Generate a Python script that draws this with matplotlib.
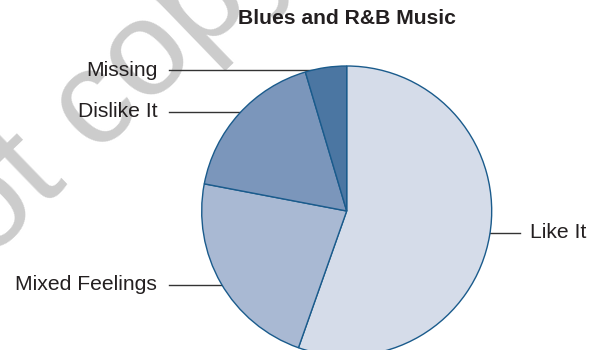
import matplotlib
matplotlib.use('Agg')
import matplotlib.pyplot as plt
import numpy as np

plt.rcParams['font.family'] = ['Liberation Sans', 'DejaVu Sans']

# survey shares, percent
categories = ['Like It', 'Mixed Feelings', 'Dislike It', 'Missing']
shares = [55.4, 22.6, 17.4, 4.6]
colors = ['#d5dce9', '#a9b9d3', '#7b96bb', '#4b76a2']
title = 'Blues and R&B Music'

# label heights (in pie-radius units) and side of the pie they sit on
label_y = [-0.15, -0.51, 0.683, 0.972]
label_side = [1, -1, -1, -1]

fig = plt.figure(figsize=(6.15, 3.5), dpi=100)

# faint watermark behind the chart, anchored at its baseline start
fig.text(-219 / 615, 1 - 462 / 350, 'Do not copy', fontsize=98, color='#cccccc',
         rotation=44, rotation_mode='anchor', ha='left', va='baseline', zorder=-1)

# pie centre at (346.7, 211) px, radius 145 px
r_px = 145
ax = fig.add_axes([(346.7 - r_px) / 615, (350 - 211 - r_px) / 350,
                   2 * r_px / 615, 2 * r_px / 350])
ax.patch.set_alpha(0)

wedges, _ = ax.pie(shares, colors=colors, startangle=90, counterclock=False,
                   radius=1, wedgeprops=dict(edgecolor='#1a5b8c', linewidth=1.0))
for w in wedges:
    w.set_clip_on(False)
ax.set_xlim(-1, 1)
ax.set_ylim(-1, 1)
ax.axis('off')

for name, y, side in zip(categories, label_y, label_side):
    edge = side * np.sqrt(1 - y ** 2)
    if side > 0:
        x0, x1, xt, ha = edge, 1.195, 1.264, 'left'
    else:
        x0, x1, xt, ha = edge, -1.2255, -1.307, 'right'
    ax.plot([x1, x0], [y, y], color='#333333', lw=1.0, clip_on=False, zorder=0.5)
    ax.text(xt, y, name, ha=ha, va='center', fontsize=15.2, color='#231f20',
            clip_on=False)

fig.text(346.7 / 615, 1 - 19 / 350, title, ha='center', va='center',
         fontsize=15.2, fontweight='bold', color='#231f20')

fig.savefig('out.png', dpi=100)
